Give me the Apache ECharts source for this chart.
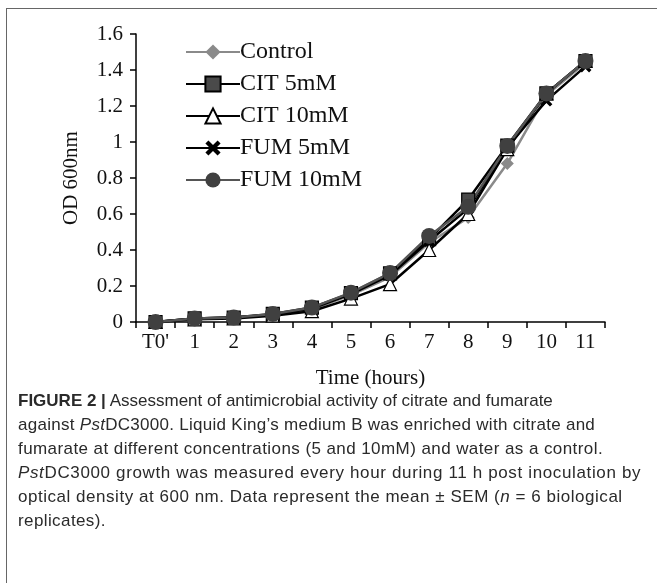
<!DOCTYPE html>
<html>
<head>
<meta charset="utf-8">
<script src="https://cdn.jsdelivr.net/npm/echarts@6/dist/echarts.min.js"></script>
<style>
  html, body { margin: 0; padding: 0; background: #fff; }
  #wrap { position: relative; width: 657px; height: 583px; overflow: hidden; }
  #frame { position: absolute; left: 6px; top: 8px; width: 700px; height: 700px;
           border-left: 1.5px solid #666; border-top: 1.5px solid #666; box-sizing: border-box; }
  #chart { position: absolute; left: 0; top: 0; width: 657px; height: 400px; }
  #caption { position: absolute; left: 18px; top: 389px; font-family: "Liberation Sans", Arial, sans-serif;
             font-size: 17px; line-height: 24px; color: #2a2a2a; white-space: nowrap; }
  #caption b { font-weight: bold; }
</style>
</head>
<body>
<div id="wrap">
  <div id="frame"></div>
  <div id="chart"></div>
  <div id="caption">
    <div><b>FIGURE 2 |</b> Assessment of antimicrobial activity of citrate and fumarate</div>
    <div style="letter-spacing:0.28px">against <i>Pst</i>DC3000. Liquid King’s medium B was enriched with citrate and</div>
    <div style="letter-spacing:0.42px">fumarate at different concentrations (5 and 10mM) and water as a control.</div>
    <div style="letter-spacing:0.64px"><i>Pst</i>DC3000 growth was measured every hour during 11 h post inoculation by</div>
    <div style="letter-spacing:0.53px">optical density at 600 nm. Data represent the mean ± SEM (<i>n</i> = 6 biological</div>
    <div style="letter-spacing:0.4px">replicates).</div>
  </div>
</div>
<script>
var categories = ["T0'", "1", "2", "3", "4", "5", "6", "7", "8", "9", "10", "11"];
var control = [0, 0.02, 0.025, 0.04, 0.07, 0.15, 0.25, 0.44, 0.58, 0.88, 1.26, 1.44];
var cit5 = [0, 0.02, 0.025, 0.045, 0.08, 0.16, 0.27, 0.46, 0.68, 0.98, 1.27, 1.45];
var cit10 = [0, 0.015, 0.02, 0.035, 0.06, 0.13, 0.21, 0.40, 0.60, 0.96, 1.27, 1.45];
var fum5 = [0, 0.02, 0.025, 0.04, 0.075, 0.155, 0.26, 0.45, 0.63, 0.97, 1.23, 1.42];
var fum10 = [0, 0.02, 0.025, 0.045, 0.08, 0.163, 0.272, 0.478, 0.64, 0.978, 1.27, 1.45];
var yTicks = { min: 0, max: 1.6, interval: 0.2 };

var serif = '"Liberation Serif", "Times New Roman", serif';
var crossPath = 'path://M2,0 L5,3 L8,0 L10,2 L7,5 L10,8 L8,10 L5,7 L2,10 L0,8 L3,5 L0,2 Z';

function mk(name, data, lineColor, symbol, size, fill, border, bw) {
  return {
    name: name, type: 'line', data: data,
    symbol: symbol, symbolSize: size,
    lineStyle: { color: lineColor, width: 2.5 },
    itemStyle: { color: fill, borderColor: border, borderWidth: bw },
    emphasis: { disabled: true },
    animation: false
  };
}

var chart = echarts.init(document.getElementById('chart'), null, { renderer: 'canvas' });
chart.setOption({
  animation: false,
  grid: { left: 136, right: 52, top: 34, bottom: 78, containLabel: false },
  legend: {
    orient: 'vertical', left: 180, top: 35, itemGap: 8,
    itemWidth: 54, itemHeight: 19,
    textStyle: { fontFamily: serif, fontSize: 24, lineHeight: 24, color: '#111', padding: [0, 0, 0, -5] },
    data: ['Control', 'CIT 5mM', 'CIT 10mM', 'FUM 5mM', 'FUM 10mM']
  },
  xAxis: {
    type: 'category', data: categories, boundaryGap: true,
    name: 'Time (hours)', nameLocation: 'middle', nameGap: 46,
    nameTextStyle: { fontFamily: serif, fontSize: 21, color: '#111' },
    axisLine: { lineStyle: { color: '#000', width: 1.5 } },
    axisTick: { show: true, length: 6, lineStyle: { color: '#000', width: 1.5 } },
    axisLabel: { fontFamily: serif, fontSize: 21, color: '#111', margin: 10 },
    splitLine: { show: false }
  },
  yAxis: {
    type: 'value', min: yTicks.min, max: yTicks.max, interval: yTicks.interval,
    name: 'OD 600nm', nameLocation: 'middle', nameGap: 54, nameRotate: 90,
    nameTextStyle: { fontFamily: serif, fontSize: 21, color: '#111' },
    axisLine: { show: true, lineStyle: { color: '#000', width: 1.5 } },
    axisTick: { show: true, length: 6, lineStyle: { color: '#000', width: 1.5 } },
    axisLabel: { fontFamily: serif, fontSize: 21, color: '#111', margin: 13 },
    splitLine: { show: false }
  },
  series: [
    mk('Control', control, '#8a8a8a', 'diamond', 13, '#8a8a8a', '#8a8a8a', 0),
    mk('CIT 5mM', cit5, '#000', 'rect', 13, '#4a4a4a', '#000', 1.2),
    mk('CIT 10mM', cit10, '#000', 'triangle', 13, '#fff', '#000', 1.2),
    mk('FUM 5mM', fum5, '#000', crossPath, 12, '#000', '#000', 0),
    mk('FUM 10mM', fum10, '#555', 'circle', 16, '#404040', '#404040', 0)
  ]
});
</script>
</body>
</html>
